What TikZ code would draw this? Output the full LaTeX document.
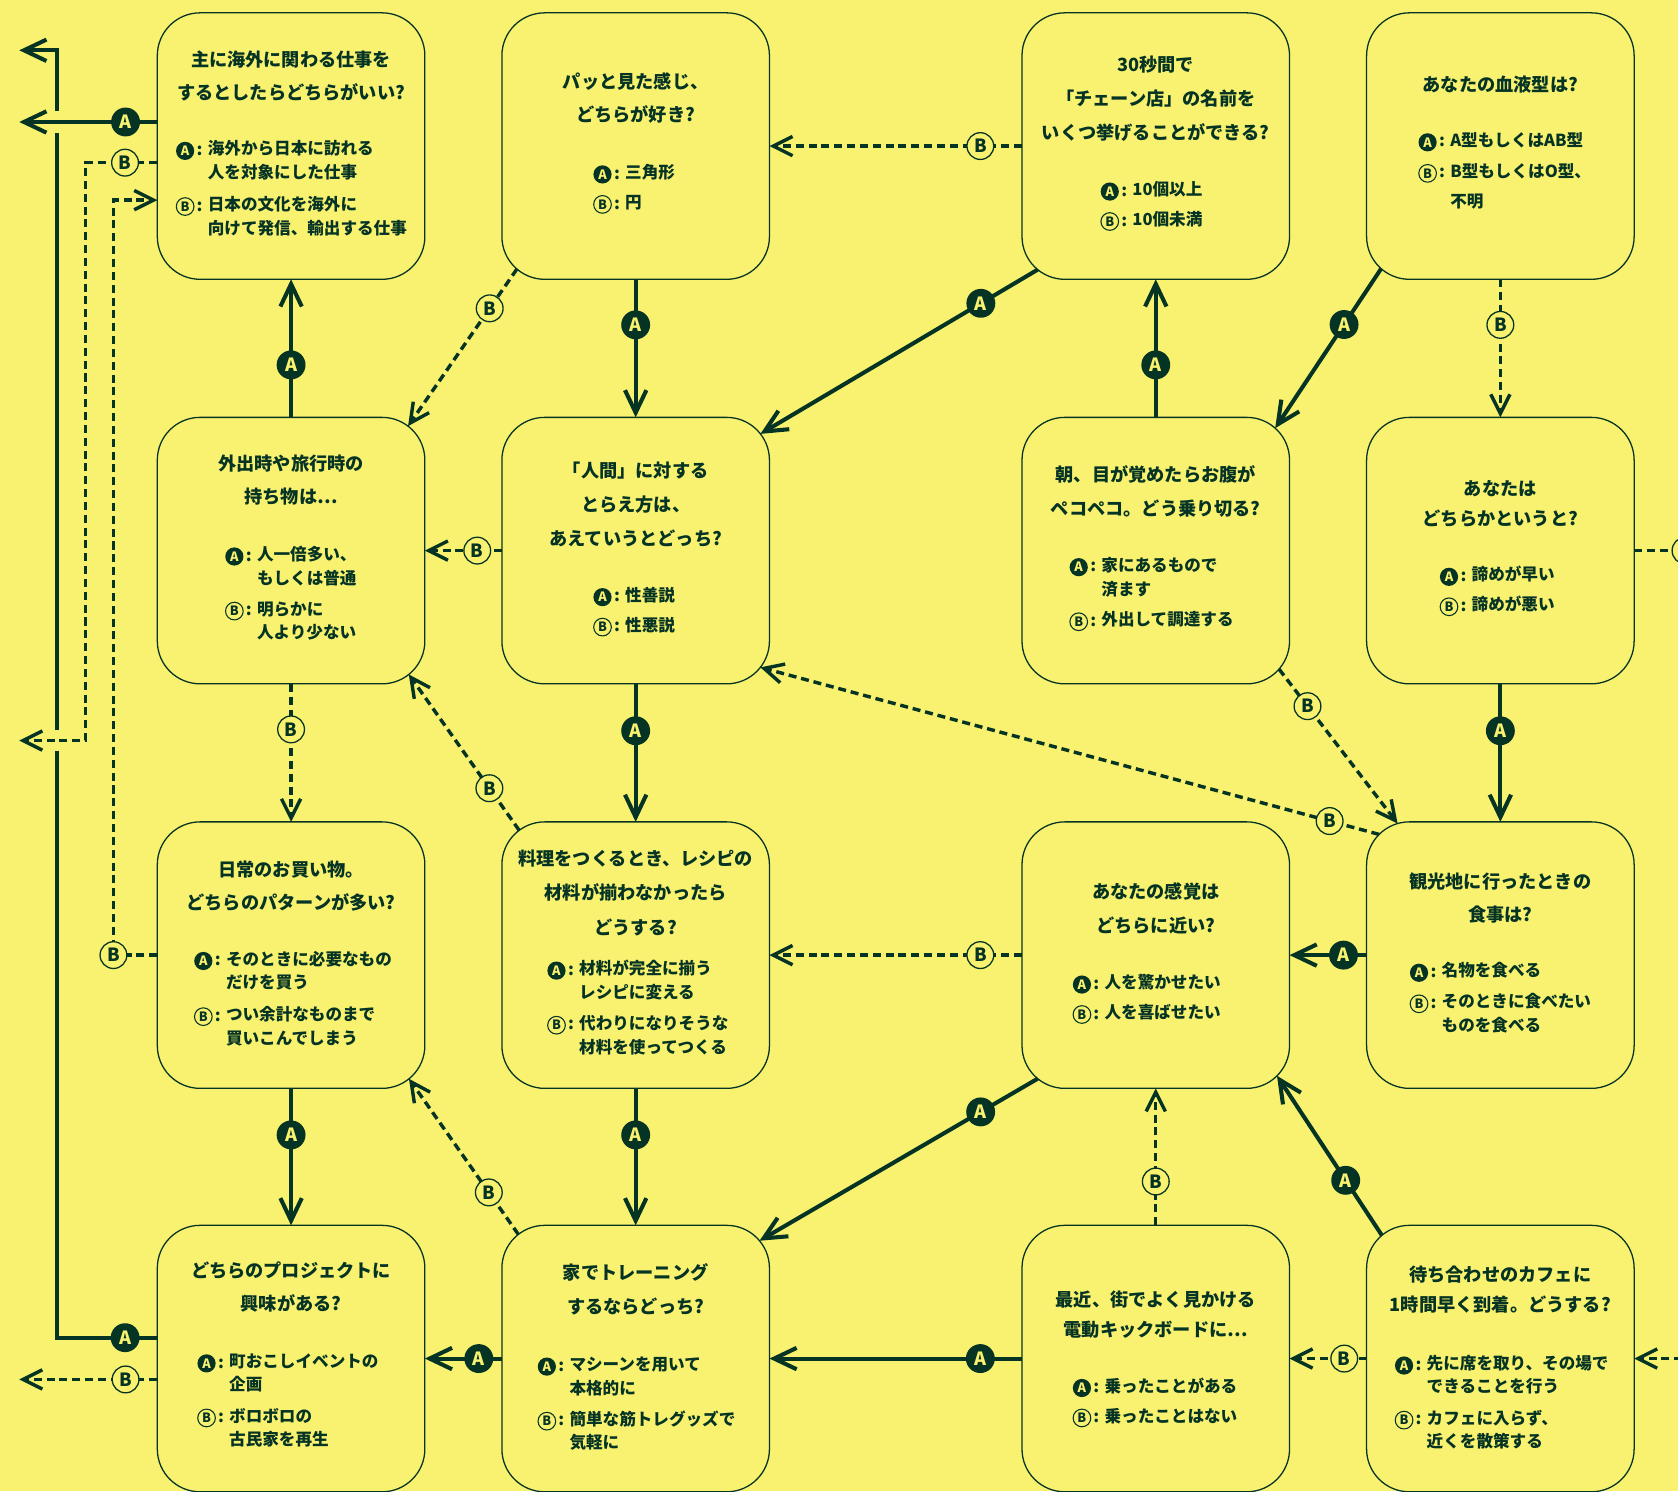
\documentclass[tikz,border=0pt]{standalone}
\usepackage{fontspec}
\setmainfont{Noto Sans CJK JP}
\usetikzlibrary{arrows.meta,calc}
\definecolor{bg}{RGB}{249,241,112}
\definecolor{dk}{RGB}{6,52,36}
\newcommand\qline[3]{\node[qtext] (#1) at (#2) {#3};}
\newcommand\optn[6]{%
  \node[#2] (#1i) at (#4,#5) {#3};
  \node[ocolon] (#1c) at ({#4+13.5},#5) {:};
  \node[otext] (#1t) at ({#4+21},#5) {#6};}
\newcommand\optc[4]{\node[otext] (#1) at ({#2+21},#3) {#4};}
\newcommand\jdots{{\addfontfeature{RawFeature=+fwid}…}}
\begin{document}
\begin{tikzpicture}[x=1pt,y=-1pt,
  box/.style={draw=dk, line width=1.2pt, rounded corners=40pt, minimum width=250pt, minimum height=249pt, inner sep=0pt, outer sep=0pt},
  qtext/.style={text=dk, font=\bfseries\fontsize{17}{20}\selectfont, inner sep=0pt, text height=0.88em, text depth=0.12em, anchor=center},
  otext/.style={text=dk, font=\bfseries\fontsize{15.5}{18}\selectfont, inner sep=0pt, text height=0.88em, text depth=0.12em, anchor=west},
  ocolon/.style={text=dk, font=\bfseries\fontsize{15.5}{18}\selectfont, inner sep=0pt, anchor=center},
  icoA/.style={circle, fill=dk, text=bg, minimum size=17pt, inner sep=0pt, font=\bfseries\fontsize{12}{12}\selectfont},
  icoB/.style={circle, draw=dk, line width=1pt, text=dk, minimum size=16.5pt, inner sep=0pt, font=\bfseries\fontsize{12}{12}\selectfont},
  labA/.style={circle, fill=dk, text=bg, minimum size=27pt, inner sep=0pt, font=\bfseries\fontsize{17}{17}\selectfont},
  labB/.style={circle, fill=bg, draw=dk, line width=1.2pt, text=dk, minimum size=25pt, inner sep=0pt, font=\bfseries\fontsize{17}{17}\selectfont, solid},
  ya/.style={draw=dk, line width=3.8pt, -{Straight Barb[length=21pt,width=20pt]}},
  yb/.style={draw=dk, line width=3.2pt, dash pattern=on 7.5pt off 4.5pt, -{Straight Barb[length=18pt,width=18pt]}},
  halo/.style={preaction={draw=bg, solid, line width=20pt, -, shorten <=2pt}},
]
\path[use as bounding box] (0,0) rectangle (1568,1393.3);
\fill[bg] (0,0) rectangle (1568,1393.3);

% boxes
\node[box] (b11) at (272,136.5) {};
\node[box] (b12) at (594,136.5) {};
\node[box] (b13) at (1080,136.5) {};
\node[box] (b14) at (1402,136.5) {};
\node[box] (b21) at (272,514.5) {};
\node[box] (b22) at (594,514.5) {};
\node[box] (b23) at (1080,514.5) {};
\node[box] (b24) at (1402,514.5) {};
\node[box] (b31) at (272,892.5) {};
\node[box] (b32) at (594,892.5) {};
\node[box] (b33) at (1080,892.5) {};
\node[box] (b34) at (1402,892.5) {};
\node[box] (b41) at (272,1269.5) {};
\node[box] (b42) at (594,1269.5) {};
\node[box] (b43) at (1080,1269.5) {};
\node[box] (b44) at (1402,1269.5) {};

% free ends
\coordinate (exA2) at (18,47);
\coordinate (exA1) at (18,114);
\coordinate (exB1) at (18,692);
\coordinate (exB2) at (18,1289);
\coordinate (exR) at (1620,514.5);
\coordinate (inR) at (1620,1269.5);

% left side connectors
\draw[ya] ($(b41.west)+(0,-19.5)$) -- node[labA,pos=0.32] (L33) {A} ++(-94,0) |- (exA2);
\draw[ya,halo] ($(b11.west)+(0,-22.5)$) -- node[labA,pos=0.23] (L2) {A} (exA1);
\draw[yb,halo] ($(b11.west)+(0,15.5)$) -- node[labB,pos=0.45] (L3) {B} ++(-67,0) |- (exB1);
\draw[yb] (b31.west) -- ++(-41,0) node[labB] (L4) {B} |- ($(b11.west)+(0,50.5)$);
\draw[yb] ($(b41.west)+(0,19.5)$) -- node[labB,pos=0.23] (L32) {B} (exB2);

% straight connectors
\draw[ya] (b21.north) -- node[labA,pos=0.38] (L1) {A} (b11.south);
\draw[ya] (b12.south) -- node[labA,pos=0.33] (L6) {A} (b22.north);
\draw[yb] (b13.west) -- node[labB,pos=0.165] (L7) {B} (b12.east);
\draw[ya] (b23.north) -- node[labA,pos=0.38] (L9) {A} (b13.south);
\draw[yb] (b14.south) -- node[labB,pos=0.33] (L11) {B} (b24.north);
\draw[ya] (b24.south) -- node[labA,pos=0.34] (L12) {A} (b34.north);
\draw[yb,-] (b24.east) -- node[labB,pos=0.516] (L13) {B} (exR);
\draw[yb] (b22.west) -- node[labB,pos=0.32] (L14) {B} (b21.east);
\draw[ya] (b22.south) -- node[labA,pos=0.34] (L15) {A} (b32.north);
\draw[yb] (b21.south) -- node[labB,pos=0.33] (L16) {B} (b31.north);
\draw[ya] (b32.south) -- node[labA,pos=0.34] (L18) {A} (b42.north);
\draw[ya] (b34.west) -- node[labA,pos=0.3] (L21) {A} (b33.east);
\draw[yb] (b33.west) -- node[labB,pos=0.165] (L22) {B} (b32.east);
\draw[ya] (b31.south) -- node[labA,pos=0.34] (L24) {A} (b41.north);
\draw[ya] (b42.west) -- node[labA,pos=0.3] (L26) {A} (b41.east);
\draw[ya] (b43.west) -- node[labA,pos=0.165] (L27) {A} (b42.east);
\draw[yb] (b43.north) -- node[labB,pos=0.32] (L28) {B} (b33.south);
\draw[yb] (b44.west) -- node[labB,pos=0.29] (L30) {B} (b43.east);
\draw[yb] (inR) -- (b44.east);

% diagonal connectors
\draw[yb] ($(b12.south west)+(40,-40)+(130.5:40)$) -- node[labB,pos=0.25] (L5) {B} ($(b21.north east)+(-40,40)+(-52.6:40)$);
\draw[ya] ($(b13.south west)+(40,-40)+(129.3:40)$) -- node[labA,pos=0.205] (L8) {A} ($(b22.north east)+(-40,40)+(-37.9:40)$);
\draw[ya] ($(b14.south west)+(40,-40)+(131.3:40)$) -- node[labA,pos=0.35] (L10) {A} ($(b23.north east)+(-40,40)+(-48.3:40)$);
\draw[yb] ($(b32.north west)+(40,40)+(-126.6:40)$) -- node[labB,pos=0.27] (L17) {B} ($(b21.south east)+(-40,-40)+(51.3:40)$);
\draw[yb] ($(b23.south east)+(-40,-40)+(41:40)$) -- node[labB,pos=0.24] (L19) {B} ($(b34.north west)+(40,40)+(-106:40)$);
\draw[yb] ($(b34.north west)+(40,40)+(-135:40)$) -- node[labB,pos=0.08] (L20) {B} ($(b22.south east)+(-40,-40)+(38:40)$);
\draw[ya] ($(b33.south west)+(40,-40)+(129.3:40)$) -- node[labA,pos=0.205] (L23) {A} ($(b42.north east)+(-40,40)+(-39.8:40)$);
\draw[yb] ($(b42.north west)+(40,40)+(-128:40)$) -- node[labB,pos=0.27] (L25) {B} ($(b31.south east)+(-40,-40)+(51:40)$);
\draw[ya] ($(b44.north west)+(40,40)+(-130:40)$) -- node[labA,pos=0.345] (L29) {A} ($(b33.south east)+(-40,-40)+(45:40)$);

% ---- texts ----
% b11
\qline{q11a}{272,58}{主に海外に関わる仕事を}
\qline{q11b}{272,89}{するとしたらどちらがいい?}
\optn{o11a}{icoA}{A}{173}{141}{海外から日本に訪れる}
\optc{o11a2}{173}{163}{人を対象にした仕事}
\optn{o11b}{icoB}{B}{173}{193}{日本の文化を海外に}
\optc{o11b2}{173}{215}{向けて発信、輸出する仕事}
% b12
\qline{q12a}{594,79}{パッと見た感じ、}
\qline{q12b}{594,110}{どちらが好き?}
\optn{o12a}{icoA}{A}{563}{163}{三角形}
\optn{o12b}{icoB}{B}{563}{191}{円}
% b13
\qline{q13a}{1080,63}{30秒間で}
\qline{q13b}{1080,95}{「チェーン店」の名前を}
\qline{q13c}{1080,127}{いくつ挙げることができる?}
\optn{o13a}{icoA}{A}{1037}{179}{10個以上}
\optn{o13b}{icoB}{B}{1037}{207}{10個未満}
% b14
\qline{q14a}{1402,82}{あなたの血液型は?}
\optn{o14a}{icoA}{A}{1334}{133}{A型もしくはAB型}
\optn{o14b}{icoB}{B}{1334}{162}{B型もしくはO型、}
\optc{o14b2}{1334}{190}{不明}
% b21
\qline{q21a}{272,436}{外出時や旅行時の}
\qline{q21b}{272,467}{持ち物は\jdots}
\optn{o21a}{icoA}{A}{219}{520}{人一倍多い、}
\optc{o21a2}{219}{542}{もしくは普通}
\optn{o21b}{icoB}{B}{219}{571}{明らかに}
\optc{o21b2}{219}{593}{人より少ない}
% b22
\qline{q22a}{594,442}{「人間」に対する}
\qline{q22b}{594,474}{とらえ方は、}
\qline{q22c}{594,506}{あえていうとどっち?}
\optn{o22a}{icoA}{A}{563}{558}{性善説}
\optn{o22b}{icoB}{B}{563}{586}{性悪説}
% b23
\qline{q23a}{1080,446}{朝、目が覚めたらお腹が}
\qline{q23b}{1080,478}{ペコペコ。どう乗り切る?}
\optn{o23a}{icoA}{A}{1008}{530}{家にあるもので}
\optc{o23a2}{1008}{553}{済ます}
\optn{o23b}{icoB}{B}{1008}{581}{外出して調達する}
% b24
\qline{q24a}{1402,459}{あなたは}
\qline{q24b}{1402,487}{どちらかというと?}
\optn{o24a}{icoA}{A}{1354}{539}{諦めが早い}
\optn{o24b}{icoB}{B}{1354}{567}{諦めが悪い}
% b31
\qline{q31a}{272,815}{日常のお買い物。}
\qline{q31b}{272,846}{どちらのパターンが多い?}
\optn{o31a}{icoA}{A}{190}{898}{そのときに必要なもの}
\optc{o31a2}{190}{920}{だけを買う}
\optn{o31b}{icoB}{B}{190}{950}{つい余計なものまで}
\optc{o31b2}{190}{972}{買いこんでしまう}
% b32
\qline{q32a}{594,805}{料理をつくるとき、レシピの}
\qline{q32b}{594,837}{材料が揃わなかったら}
\qline{q32c}{594,869}{どうする?}
\optn{o32a}{icoA}{A}{520}{907}{材料が完全に揃う}
\optc{o32a2}{520}{929}{レシピに変える}
\optn{o32b}{icoB}{B}{520}{958}{代わりになりそうな}
\optc{o32b2}{520}{981}{材料を使ってつくる}
% b33
\qline{q33a}{1080,836}{あなたの感覚は}
\qline{q33b}{1080,868}{どちらに近い?}
\optn{o33a}{icoA}{A}{1011}{920}{人を驚かせたい}
\optn{o33b}{icoB}{B}{1011}{948}{人を喜ばせたい}
% b34
\qline{q34a}{1402,826}{観光地に行ったときの}
\qline{q34b}{1402,857}{食事は?}
\optn{o34a}{icoA}{A}{1326}{909}{名物を食べる}
\optn{o34b}{icoB}{B}{1326}{938}{そのときに食べたい}
\optc{o34b2}{1326}{960}{ものを食べる}
% b41
\qline{q41a}{272,1190}{どちらのプロジェクトに}
\qline{q41b}{272,1221}{興味がある?}
\optn{o41a}{icoA}{A}{193}{1274}{町おこしイベントの}
\optc{o41a2}{193}{1296}{企画}
\optn{o41b}{icoB}{B}{193}{1325}{ボロボロの}
\optc{o41b2}{193}{1347}{古民家を再生}
% b42
\qline{q42a}{594,1192}{家でトレーニング}
\qline{q42b}{594,1224}{するならどっち?}
\optn{o42a}{icoA}{A}{511}{1277}{マシーンを用いて}
\optc{o42a2}{511}{1299}{本格的に}
\optn{o42b}{icoB}{B}{511}{1328}{簡単な筋トレグッズで}
\optc{o42b2}{511}{1350}{気軽に}
% b43
\qline{q43a}{1080,1217}{最近、街でよく見かける}
\qline{q43b}{1080,1245}{電動キックボードに\jdots}
\optn{o43a}{icoA}{A}{1011}{1297}{乗ったことがある}
\optn{o43b}{icoB}{B}{1011}{1325}{乗ったことはない}
% b44
\qline{q44a}{1402,1194}{待ち合わせのカフェに}
\qline{q44b}{1402,1222}{1時間早く到着。どうする?}
\optn{o44a}{icoA}{A}{1312}{1276}{先に席を取り、その場で}
\optc{o44a2}{1312}{1297}{できることを行う}
\optn{o44b}{icoB}{B}{1312}{1327}{カフェに入らず、}
\optc{o44b2}{1312}{1349}{近くを散策する}
\end{tikzpicture}
\end{document}
